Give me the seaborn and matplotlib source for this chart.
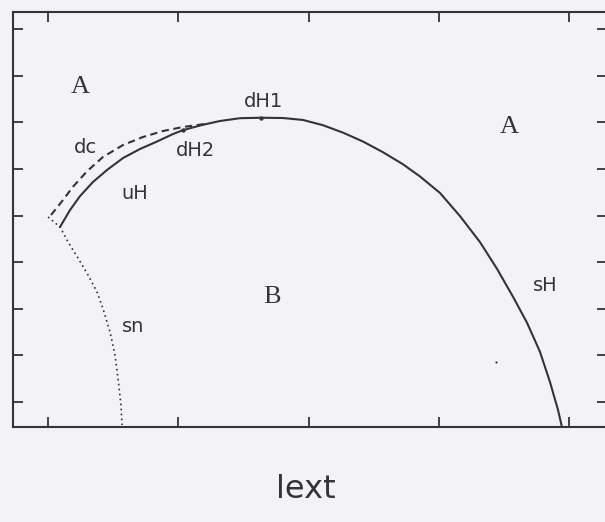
import numpy as np
import pandas as pd
import matplotlib
matplotlib.use("Agg")
import matplotlib.pyplot as plt
import seaborn as sns

# Boundary curves of the phase diagram (lext on the horizontal axis)
sh_x = [0.092, 0.169, 0.246, 0.345, 0.453, 0.576, 0.706, 0.837, 0.960, 1.036,
        1.190, 1.321, 1.474, 1.628, 1.804, 1.958, 2.111, 2.265, 2.418, 2.572,
        2.726, 2.856, 3.010, 3.163, 3.317, 3.447, 3.570, 3.678, 3.777, 3.854,
        3.916, 3.946]
sh_y = [4.755, 5.120, 5.420, 5.721, 5.979, 6.236, 6.429, 6.590, 6.751, 6.833,
        6.950, 7.030, 7.090, 7.100, 7.094, 7.052, 6.940, 6.780, 6.590, 6.360,
        6.100, 5.840, 5.485, 4.990, 4.430, 3.860, 3.260, 2.700, 2.080, 1.430,
        0.828, 0.464]

dc_x = [0.023, 0.115, 0.192, 0.299, 0.422, 0.576, 0.729, 0.883, 1.036, 1.205]
dc_y = [5.013, 5.335, 5.620, 5.950, 6.258, 6.515, 6.687, 6.815, 6.901, 6.966]

sn_x = [0.0, 0.092, 0.154, 0.230, 0.307, 0.376, 0.422, 0.476, 0.514, 0.537,
        0.560, 0.568]
sn_y = [4.970, 4.755, 4.433, 4.090, 3.725, 3.361, 3.000, 2.502, 2.009, 1.515,
        0.936, 0.506]

# Special points on the curve
pt_names = ["dH1", "dH2"]
pt_x = [1.635, 1.036]
pt_y = [7.10, 6.833]

# isolated point inside region B
stray_x = [3.440]
stray_y = [1.858]

# Region / curve labels
lab_text = ["A", "dc", "uH", "dH2", "dH1", "A", "B", "sn", "sH"]
lab_x = [0.246, 0.284, 0.668, 1.129, 1.651, 3.539, 1.72, 0.653, 3.82]
lab_y = [7.76, 6.47, 5.48, 6.39, 7.44, 6.90, 3.25, 2.63, 3.51]
serif_labels = {"A", "B"}

x_ticks = [0, 1, 2, 3, 4]
y_ticks = [1, 2, 3, 4, 5, 6, 7, 8, 9]

sns.set_style("ticks")
bg = "#f3f2f5"
ink = "#36323b"

fig = plt.figure(figsize=(6.05, 5.22), dpi=100, facecolor=bg)
ax = fig.add_axes([13 / 605, 95 / 522, 594 / 605, 415 / 522])
ax.set_facecolor(bg)

sh = pd.DataFrame({"x": sh_x, "y": sh_y})
dc = pd.DataFrame({"x": dc_x, "y": dc_y})
sn = pd.DataFrame({"x": sn_x, "y": sn_y})

sns.lineplot(data=sh, x="x", y="y", sort=False, ax=ax, color=ink, lw=1.5)
sns.lineplot(data=dc, x="x", y="y", sort=False, ax=ax, color=ink, lw=1.5,
             linestyle=(0, (3.5, 2.2)))
sns.lineplot(data=sn, x="x", y="y", sort=False, ax=ax, color=ink, lw=1.2,
             linestyle=(0, (1, 2.0)))
sns.scatterplot(x=pt_x, y=pt_y, ax=ax, color=ink, s=8, edgecolor=ink)
sns.scatterplot(x=stray_x, y=stray_y, ax=ax, color=ink, s=2, edgecolor=ink)

for t, x, y in zip(lab_text, lab_x, lab_y):
    if t in serif_labels:
        ax.text(x, y, t, family="Liberation Serif", fontsize=19, color=ink,
                ha="center", va="center")
    else:
        ax.text(x, y, t, family="DejaVu Sans", fontsize=14, color=ink,
                ha="center", va="center")

ax.set_xlim(-0.269, 4.292)
ax.set_ylim(0.4635, 9.369)
ax.set_xticks(x_ticks)
ax.set_yticks(y_ticks)
ax.set_xticklabels([])
ax.set_yticklabels([])
ax.tick_params(direction="in", length=7, width=1.3, color=ink,
               top=True, right=True, bottom=True, left=True)
for s in ax.spines.values():
    s.set_color(ink)
    s.set_linewidth(1.5)
ax.set_xlabel("")
ax.set_ylabel("")

fig.text(306 / 605, 1 - 490 / 522, "lext", family="DejaVu Sans", fontsize=23,
         color=ink, ha="center", va="center")

fig.savefig("out.png", dpi=100, facecolor=bg)
